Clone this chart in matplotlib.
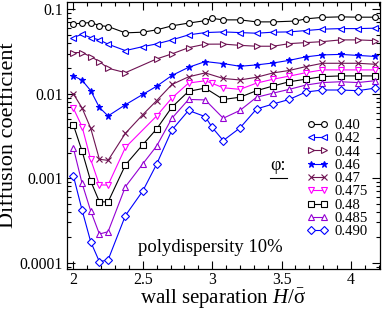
import matplotlib
matplotlib.use('Agg')
import matplotlib.pyplot as plt
from matplotlib.ticker import LogLocator, MultipleLocator, NullFormatter

plt.rcParams['font.family'] = ['Liberation Serif', 'DejaVu Serif']
plt.rcParams['mathtext.fontset'] = 'custom'
plt.rcParams['mathtext.rm'] = 'Liberation Serif'
plt.rcParams['mathtext.it'] = 'Liberation Serif:italic'

# wall separation H / sigma for each data set (not all sets were sampled at the same H)
H_040 = [2.0, 2.0625, 2.125, 2.1875, 2.25, 2.375, 2.5, 2.6, 2.71, 2.83, 2.95, 3.0, 3.08, 3.2,
         3.32, 3.44, 3.6, 3.675, 3.795, 3.925, 4.05, 4.175]
H_STD = [2.0, 2.0625, 2.125, 2.1875, 2.25, 2.375, 2.5, 2.6, 2.71, 2.83, 2.95, 3.08, 3.2,
         3.32, 3.44, 3.555, 3.675, 3.795, 3.925, 4.05, 4.175]
H_044 = [2.0, 2.0625, 2.125, 2.1875, 2.25, 2.375, 2.6, 2.71, 2.83, 2.95, 3.08, 3.2,
         3.32, 3.44, 3.555, 3.675, 3.795, 3.925, 4.05, 4.175]
H_0475 = [2.0, 2.0625, 2.125, 2.1875, 2.25, 2.375, 2.6, 2.71, 2.83, 2.95, 3.0, 3.08, 3.2,
          3.32, 3.44, 3.555, 3.675, 3.795, 3.925, 4.05, 4.175]
H_0490 = [2.0, 2.0625, 2.125, 2.1875, 2.25, 2.375, 2.5, 2.6, 2.71, 2.83, 2.95, 3.0, 3.08, 3.2,
          3.32, 3.44, 3.555, 3.675, 3.795, 3.925, 4.05, 4.175]

# diffusion coefficients
D_040 = [0.0673, 0.0686, 0.0698, 0.0643, 0.0626, 0.0527, 0.0537, 0.0572, 0.0638, 0.0688, 0.0735,
         0.0782, 0.0751, 0.0751, 0.0711, 0.0711, 0.0727, 0.0772, 0.0804, 0.0815, 0.0808, 0.0808]
D_042 = [0.0463, 0.0508, 0.0463, 0.0435, 0.0387, 0.0325, 0.0362, 0.0390, 0.0435, 0.0499, 0.0531,
         0.0541, 0.0531, 0.0522, 0.0537, 0.0541, 0.0561, 0.0583, 0.0592, 0.0592, 0.0599]
D_044 = [0.0308, 0.0308, 0.0276, 0.0241, 0.0201, 0.0178, 0.0259, 0.0297, 0.0352, 0.0387,
         0.0388, 0.0375, 0.0366, 0.0366, 0.0393, 0.0404, 0.0415, 0.0435, 0.0435, 0.0427]
D_046 = [0.0163, 0.0145, 0.0109, 0.00690, 0.00547, 0.00743, 0.00984, 0.0123, 0.0165, 0.0206, 0.0241,
         0.0228, 0.0212, 0.0220, 0.0232, 0.0249, 0.0274, 0.0289, 0.0293, 0.0285, 0.0277]
D_047 = [0.0100, 0.00681, 0.00391, 0.00168, 0.00163, 0.00341, 0.00567, 0.00831, 0.0129, 0.0159, 0.0177,
         0.0152, 0.0146, 0.0157, 0.0177, 0.0189, 0.0210, 0.0230, 0.0230, 0.0230, 0.0224]
D_0475 = [0.00675, 0.00409, 0.00167, 0.000833, 0.000833, 0.00232, 0.00547, 0.00894, 0.0134, 0.0143,
          0.0133, 0.0118, 0.0113, 0.0134, 0.0149, 0.0162, 0.0178, 0.0192, 0.0192, 0.0192, 0.0192]
D_048 = [0.00428, 0.00210, 0.000924, 0.000528, 0.000524, 0.00144, 0.00250, 0.00384, 0.00696, 0.0107,
         0.0117, 0.00858, 0.00911, 0.0109, 0.0124, 0.0139, 0.0149, 0.0160, 0.0163, 0.0163, 0.0163]
D_0485 = [0.00229, 0.000873, 0.000410, 0.000219, 0.000233, 0.000795, 0.00148, 0.00241, 0.00514, 0.00858,
          0.00847, 0.00514, 0.00636, 0.00911, 0.0102, 0.0113, 0.0127, 0.0136, 0.0139, 0.0136, 0.0143]
D_0490 = [0.00107, 0.000421, 0.000177, 0.000103, 0.000108, 0.000362, 0.000707, 0.00147, 0.00373, 0.00636,
          0.00537, 0.00400, 0.00280, 0.00394, 0.00662, 0.00759, 0.00858, 0.0105, 0.0111, 0.0111, 0.0109,
          0.0117]

LABELS = ['0.40', '0.42', '0.44', '0.46', '0.47', '0.475', '0.48', '0.485', '0.490']
XTICKS = [2, 2.5, 3, 3.5, 4]
XTICK_LABELS = ['2', '2.5', '3', '3.5', '4']
YTICKS = [1e-4, 1e-3, 1e-2, 1e-1]
YTICK_LABELS = ['0.0001', '0.001', '0.01', '0.1']

BLUE = '#0000ff'
MAROON = '#6e1252'
MAGENTA = '#ff00ff'
VIOLET = '#9400d3'

# (x, y, marker, colour, marker size, face colour)
sets = [
    (H_040, D_040, 'o', 'black', 4.2, 'white'),
    (H_STD, D_042, '<', BLUE, 4.5, 'white'),
    (H_044, D_044, '>', MAROON, 4.5, 'white'),
    (H_STD, D_046, '*', BLUE, 4.6, BLUE),
    (H_STD, D_047, 'x', MAROON, 3.8, MAROON),
    (H_0475, D_0475, 'v', MAGENTA, 4.5, 'white'),
    (H_STD, D_048, 's', 'black', 4.0, 'white'),
    (H_STD, D_0485, '^', VIOLET, 4.5, 'white'),
    (H_0490, D_0490, 'D', BLUE, 3.6, 'white'),
]

fig = plt.figure(figsize=(3.82, 3.10), dpi=100)
ax = fig.add_axes([0.175, 0.132, 0.82, 0.862])

for (x, d, m, c, ms, fc), lab in zip(sets, LABELS):
    ax.plot(x, d, marker=m, color=c, lw=0.8, ms=ms, mfc=fc, mec=c, mew=0.8, label=lab)

ax.set_yscale('log')
ax.set_xlim(1.953, 4.21)
ax.set_ylim(8.42e-5, 0.1227)

ax.set_xticks(XTICKS)
ax.set_xticklabels(XTICK_LABELS)
ax.xaxis.set_minor_locator(MultipleLocator(0.1))
ax.set_yticks(YTICKS)
ax.set_yticklabels(YTICK_LABELS)
ax.yaxis.set_minor_locator(LogLocator(base=10, subs=range(2, 10)))
ax.yaxis.set_minor_formatter(NullFormatter())
ax.tick_params(which='both', direction='in', top=True, right=True, labelsize=11.3, width=0.8)
ax.tick_params(which='major', length=5.5, pad=3)
ax.tick_params(axis='x', which='major', pad=1.8)
ax.tick_params(which='minor', length=2.8)
for s in ax.spines.values():
    s.set_linewidth(0.9)

ax.set_ylabel('Diffusion coefficient', fontsize=16)
ax.yaxis.set_label_coords(-0.157, 0.5)
ax.set_xlabel(r'wall separation $\mathit{H}/\bar{\mathrm{σ}}$', fontsize=15)
ax.xaxis.set_label_coords(0.5, -0.064)

ax.legend(loc='upper left', bbox_to_anchor=(0.766, 0.563), frameon=False, fontsize=10.6,
          numpoints=2, handlelength=1.45, handletextpad=0.4, labelspacing=0.0,
          borderpad=0, borderaxespad=0)

ax.text(0.649, 0.386, 'φ:', transform=ax.transAxes, fontsize=13, va='center', ha='left')
ax.plot([0.648, 0.703], [0.340, 0.340], transform=ax.transAxes, color='black', lw=0.8)
ax.text(0.227, 0.065, 'polydispersity 10%', transform=ax.transAxes, fontsize=13.4,
        va='baseline', ha='left')

fig.savefig('out.png', dpi=100)
